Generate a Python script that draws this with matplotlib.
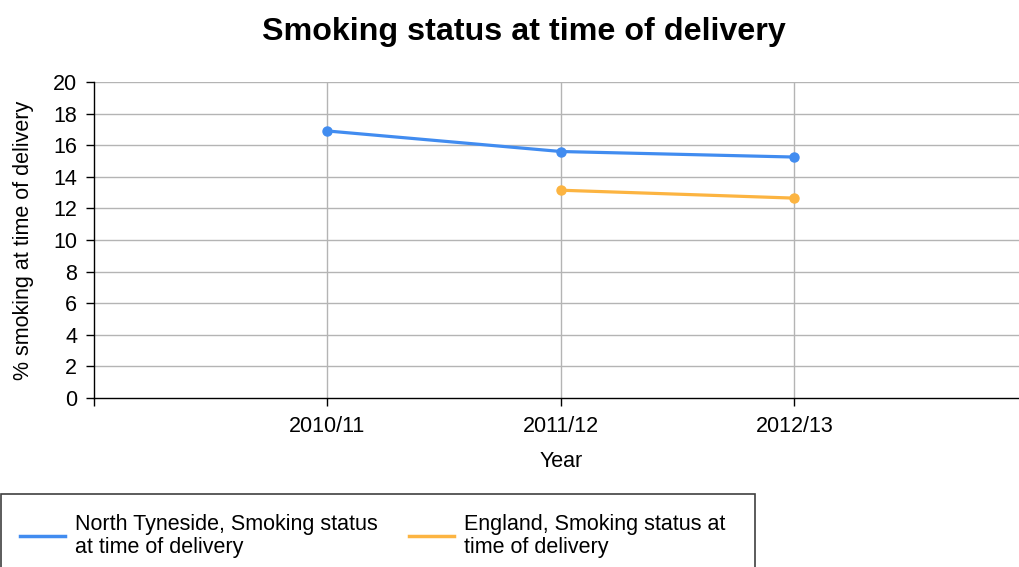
import matplotlib
matplotlib.use("Agg")
import matplotlib.pyplot as plt
from matplotlib.patches import Rectangle

years = ["2010/11", "2011/12", "2012/13"]
north_tyneside = [16.9, 15.6, 15.25]
england = [None, 13.15, 12.65]

series_names = [
    "North Tyneside, Smoking status\nat time of delivery",
    "England, Smoking status at\ntime of delivery",
]
colors = ["#418CF0", "#FCB441"]

plt.rcParams["font.family"] = ["Liberation Sans", "DejaVu Sans"]

fig = plt.figure(figsize=(10.2, 5.67), dpi=100)
W, H = 1020, 567
ax = fig.add_axes([94 / W, 1 - 398 / H, 934 / W, 316 / H])

xpos = list(range(1, len(years) + 1))
l1, = ax.plot(xpos, north_tyneside, color=colors[0], lw=2.3, marker="o",
              ms=6.5, label=series_names[0], zorder=3)
ex = [x for x, v in zip(xpos, england) if v is not None]
ev = [v for v in england if v is not None]
l2, = ax.plot(ex, ev, color=colors[1], lw=2.3, marker="o", ms=6.5,
              label=series_names[1], zorder=3)

ax.set_xlim(0, 4)
ax.set_ylim(0, 20)
ax.set_yticks(range(0, 21, 2))
ax.set_xticks([0] + xpos)
ax.set_xticklabels([""] + years)

for y in range(2, 21, 2):
    ax.axhline(y, color="#b4b4b4", lw=1, zorder=1)
for x in xpos:
    ax.axvline(x, color="#b4b4b4", lw=1, zorder=1)

for s in ("top", "right"):
    ax.spines[s].set_visible(False)
for s in ("left", "bottom"):
    ax.spines[s].set_color("black")
    ax.spines[s].set_linewidth(1)

ax.tick_params(axis="both", direction="out", length=6, width=1,
               color="black", labelsize=15.5)
ax.tick_params(axis="y", pad=6)
ax.tick_params(axis="x", pad=7)

ax.set_xlabel("Year", fontsize=15.5, labelpad=10)
ax.set_ylabel("% smoking at time of delivery", fontsize=15.5, labelpad=14)

fig.text(524 / W, 1 - 32 / H, "Smoking status at time of delivery",
         ha="center", va="center", fontsize=23.2, fontweight="bold")

# legend frame and entries
fig.patches.append(Rectangle((1 / W, 1 - 600 / H), 754 / W, 106 / H,
                             transform=fig.transFigure, fill=False,
                             edgecolor="#404040", lw=1.2))
leg = fig.legend(handles=[l1, l2], loc="upper left",
                 bbox_to_anchor=(5 / W, 1 - 499 / H), ncol=2,
                 frameon=False, fontsize=15.5, handlelength=2.1,
                 handletextpad=0.45, columnspacing=1.45, borderpad=0.2,
                 labelspacing=0)
for h in leg.legend_handles:
    h.set_marker("")
    h.set_linewidth(2.5)
for t in leg.get_texts():
    t.set_linespacing(1.1)

fig.savefig("out.png", dpi=100)
